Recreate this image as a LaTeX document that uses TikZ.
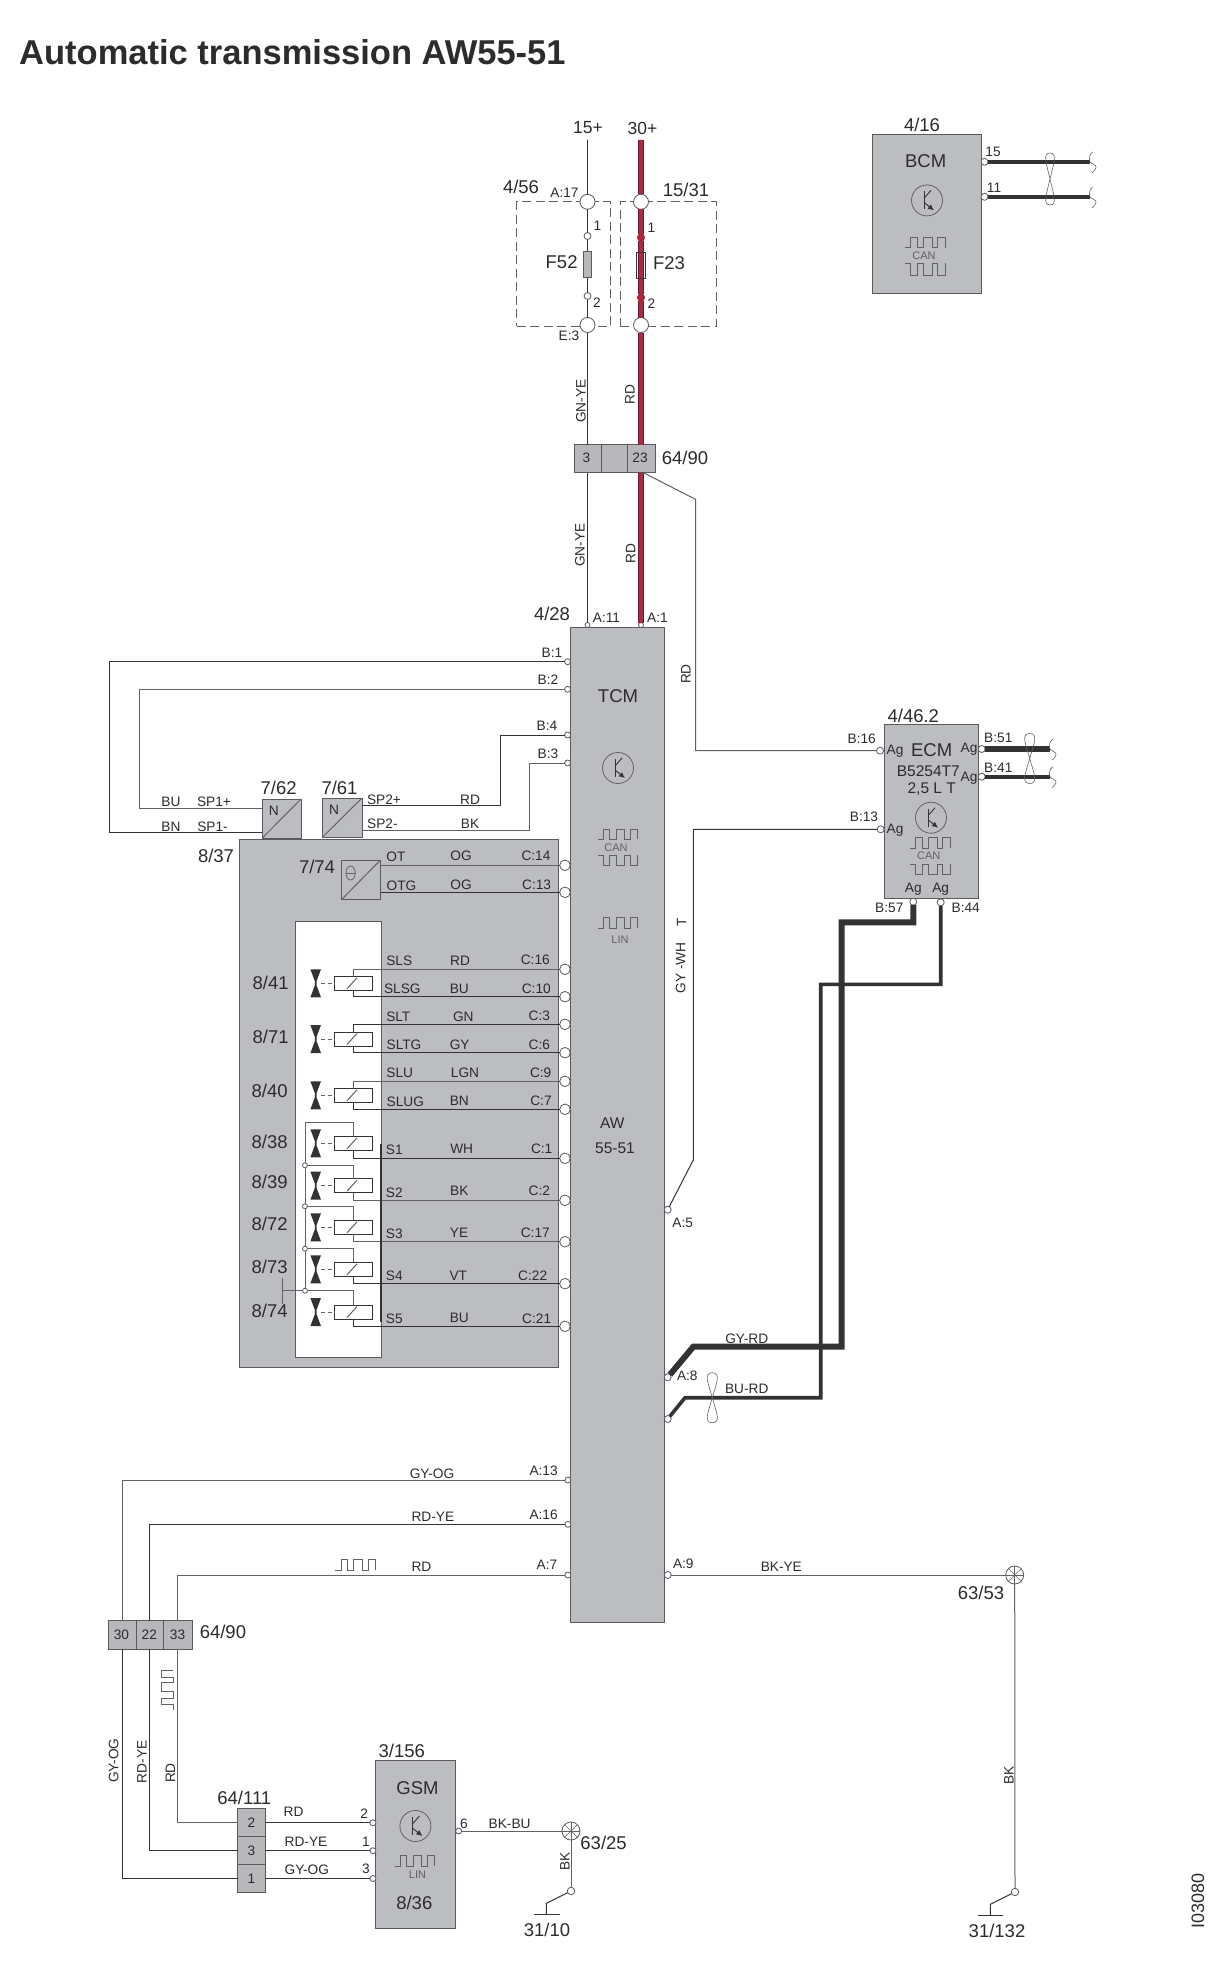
\documentclass[tikz,border=0pt]{standalone}
\usepackage{fontspec}
\setmainfont{Liberation Sans}
\usetikzlibrary{arrows.meta,calc}
\definecolor{blkgray}{HTML}{BCBDC0}
\definecolor{cnngray}{HTML}{B8B8BA}
\definecolor{edgegray}{HTML}{5A5A5C}
\definecolor{wiredark}{HTML}{333335}
\definecolor{wirelight}{HTML}{626264}
\definecolor{txtgray}{HTML}{2C2C2E}
\definecolor{wirered}{HTML}{C2203F}
\newcount\lblcnt
\newcommand{\blk}[6][]{\pgfmathsetmacro\bw{#5-#3}\pgfmathsetmacro\bh{#6-#4}\node[blkst,#1,minimum width=\bw pt,minimum height=\bh pt,anchor=north west] (#2) at (#3,#4) {};}
\newcommand{\pinn}[5][]{\node[pinst,minimum size=#5pt,#1] (#2) at (#3,#4) {};}
\newcommand{\lbl}[4][sm]{\global\advance\lblcnt by 1\node[#1] (t\the\lblcnt) at (#2,#3) {#4};}
\newcommand{\sqw}[4]{\draw[wavest] (#1,#2) -- ++(.14*#3,0) -- ++(0,-#4) -- ++(.16*#3,0) -- ++(0,#4) -- ++(.16*#3,0) -- ++(0,-#4) -- ++(.22*#3,0) -- ++(0,#4) -- ++(.14*#3,0) -- ++(0,-#4) -- ++(.18*#3,0) -- ++(0,#4);}
\newcommand{\vsqw}[4]{\draw[wavest] (#1,#2) -- ++(0,-.14*#3) -- ++(-#4,0) -- ++(0,-.16*#3) -- ++(#4,0) -- ++(0,-.16*#3) -- ++(-#4,0) -- ++(0,-.22*#3) -- ++(#4,0) -- ++(0,-.14*#3) -- ++(-#4,0) -- ++(0,-.18*#3) -- ++(#4,0);}
\newcommand{\transis}[2]{\begin{scope}[shift={(#1,#2)}]
\draw[wavest] (0,0) circle (15.5);
\draw[wiredk,line width=.9pt] (-3,-9) -- (-3,9);
\draw[wiredk,line width=.9pt] (-3,-2) -- (4,-10);
\draw[wiredk,line width=.9pt,-{Latex[length=6pt,width=5.5pt]}] (-3,2) -- (7,10);
\end{scope}}
\newcommand{\twist}[4]{\begin{scope}[shift={(#1,#2)}]
\draw[wavest,line width=.6pt] (0,0) .. controls (.55*#3,-.55*#4) and (1.3*#3,-#4) .. (0,-#4) .. controls (-1.3*#3,-#4) and (-.55*#3,-.55*#4) .. (0,0)
 .. controls (.55*#3,.55*#4) and (1.3*#3,#4) .. (0,#4) .. controls (-1.3*#3,#4) and (-.55*#3,.55*#4) .. (0,0);
\end{scope}}
\newcommand{\curl}[2]{\draw[wavest,line width=.6pt] (#1+3,#2-10) .. controls (#1-1,#2-8) and (#1-1,#2-2) .. (#1,#2) .. controls (#1+1,#2+2) and (#1+7,#2+3) .. (#1+6,#2+6) .. controls (#1+5,#2+9) and (#1+3,#2+10) .. (#1+2,#2+11);}
\newcommand{\stargnd}[3]{\node[pinst,minimum size=18pt] (#1) at (#2,#3) {};
\foreach \a in {0,45,90,135} \draw[wavest,line width=.6pt] ($(#1.center)+(\a:9)$) -- ($(#1.center)+(\a+180:9)$);}
% coil: name, centre y
\newcommand{\solen}[2]{\node[coilst] (#1) at (353.5,#2) {};
\draw[wirelt] (347,#2+5.5) -- (357,#2-5.5);
\fill[wiredark] (310.4,#2-14) -- (321,#2-14) -- (316.5,#2-2) -- (316.5,#2+2) -- (321,#2+14) -- (310.4,#2+14) -- (314.9,#2+2) -- (314.9,#2-2) -- cycle;
\draw[wirelt,dashed,dash pattern=on 4pt off 2.5pt] (321,#2) -- (#1.west);}
\tikzset{
 x=1pt,y=-1pt,
 blkst/.style={draw=edgegray,fill=blkgray,line width=1pt,inner sep=0pt,outer sep=0pt},
 cnnst/.style={draw=edgegray,fill=cnngray,line width=1pt,inner sep=0pt,outer sep=0pt},
 pinst/.style={circle,draw=edgegray,fill=white,line width=.8pt,inner sep=0pt,outer sep=0pt},
 redpin/.style={fill=wirered,draw=wirered!70!black},
 coilst/.style={rectangle,draw=wiredark,fill=white,line width=.9pt,minimum width=38.4pt,minimum height=14pt,inner sep=0pt,outer sep=0pt},
 wiredk/.style={draw=wiredark,line width=1pt},
 wirelt/.style={draw=wirelight,line width=1pt},
 thickw/.style={draw=wiredark,line width=6pt},
 midw/.style={draw=wiredark,line width=3.6pt},
 redw/.style={draw=wiredark,line width=.7pt,double=wirered,double distance=4.6pt},
 wavest/.style={draw=wirelight,line width=.8pt},
 dashbox/.style={draw=wirelight,line width=.9pt,dash pattern=on 9pt off 4.5pt},
 sm/.style={font=\fontsize{13.7}{14}\selectfont,text=txtgray,inner sep=0pt},
 md/.style={font=\fontsize{15.5}{16}\selectfont,text=txtgray,inner sep=0pt},
 bg/.style={font=\fontsize{18.5}{19}\selectfont,text=txtgray,inner sep=0pt},
 tn/.style={font=\fontsize{11}{12}\selectfont,text=wirelight,inner sep=0pt},
 rsm/.style={sm,rotate=90},
 titl/.style={font=\fontsize{34.5}{37}\selectfont\bfseries,text=txtgray,inner sep=0pt,anchor=west},
}
\begin{document}
\begin{tikzpicture}
\fill[white] (0,0) rectangle (1226,1980);
\useasboundingbox (0,0) rectangle (1226,1980);
%---- blocks
\blk{tcm}{570.5}{627}{664}{1622}
\blk{blk837}{239}{839.5}{558.5}{1367}
\blk[fill=white]{valvebox}{295.3}{921}{381}{1357.3}
\blk{bcm}{872.6}{135}{981.2}{293}
\blk{ecm}{884.3}{724}{978}{898}
\blk{gsm}{375.7}{1760.7}{455.4}{1928.7}
\blk{n62}{262}{799}{301}{838.3}
\blk{n61}{322.7}{798}{362}{837}
\blk{sen}{341.8}{860}{380.5}{899.3}
\blk[cnnst]{cn3}{574}{444.6}{601}{472.5}
\blk[cnnst]{cnm}{601}{444.6}{627}{472.5}
\blk[cnnst]{cn23}{627}{444.6}{655}{472.5}
\blk[cnnst]{cl30}{108}{1620.7}{136}{1649}
\blk[cnnst]{cl22}{136}{1620.7}{163}{1649}
\blk[cnnst]{cl33}{163}{1620.7}{192}{1649}
\blk[cnnst]{bx2}{237.5}{1808.7}{265.4}{1836.7}
\blk[cnnst]{bx3}{237.5}{1836.7}{265.4}{1864.7}
\blk[cnnst]{bx1}{237.5}{1864.7}{265.4}{1892.3}
%---- dashed fuse boxes
\node[dashbox,minimum width=93.5pt,minimum height=124.3pt,inner sep=0pt,anchor=north west] (fb52) at (516.3,201.4) {};
\node[dashbox,minimum width=95.9pt,minimum height=124.3pt,inner sep=0pt,anchor=north west] (fb23) at (619.6,201.4) {};
%---- symbols in blocks
\draw[wirelt] (n62.south west) -- (n62.north east);
\draw[wirelt] (n61.south west) -- (n61.north east);
\draw[wirelt] (sen.south west) -- (sen.north east);
\draw[wavest] (350.6,873) ellipse (4.6 and 7);
\draw[wavest] (346,873) -- (355.2,873);
\transis{927}{200.4}\transis{618}{768}\transis{931}{817.7}\transis{415.4}{1826}
\sqw{905}{247.5}{40}{10}\sqw{905}{263}{40}{-12}
\sqw{597.5}{839.3}{40}{10.3}\sqw{597.5}{855}{40}{-10.7}
\sqw{597.5}{928}{40}{10.3}
\sqw{910}{848}{40}{11}\sqw{910}{864}{40}{-10.3}
\sqw{394.6}{1866}{40}{10.3}
\sqw{335.4}{1570}{40}{11}
\vsqw{172.9}{1710}{40}{11.5}
%---- pins
\pinn{top15}{587.5}{140}{.1}
\pinn{top30}{641}{140}{.1}
\pinn{ca17}{587.5}{201.8}{15}
\pinn{ce3}{587.5}{325}{15}
\pinn{fa1}{587.5}{236}{7}
\pinn{fa2}{587.5}{296}{7}
\pinn{cb1}{641}{201.8}{15}
\pinn{cb2}{641}{325}{15}
\pinn[redpin]{fb1}{641}{237.5}{7}
\pinn[redpin]{fb2}{641}{297.5}{7}
\pinn{pa11}{587.5}{625}{5}
\pinn{pa1}{641}{625}{5}
\pinn{pb1}{567.6}{661.7}{6}
\pinn{pb2}{567.6}{689.3}{6}
\pinn{pb4}{567.6}{735}{6}
\pinn{pb3}{567.6}{763}{6}
\pinn{pc14}{565}{865.3}{10.6}
\pinn{pc13}{565}{892.3}{10.6}
\foreach \n/\y in {c16/969.3,c10/996.7,c3/1024.3,c6/1052.7,c9/1081.3,c7/1109.3,c1/1158.3,c2/1200.3,c17/1241.7,c22/1283.7,c21/1326.3}{\pinn{p\n}{565}{\y}{10.6}}
\pinn{pa5}{667.7}{1209.7}{7}
\pinn{pa8}{667.7}{1377.3}{7}
\pinn{pa8b}{667.7}{1419}{7}
\pinn{pa9}{667.7}{1575}{7}
\pinn{pa13}{567.9}{1480}{6}
\pinn{pa16}{567.9}{1524.3}{6}
\pinn{pa7}{567.9}{1575}{6}
\pinn{pe16}{880}{750.7}{7}
\pinn{pe13}{880.7}{829.3}{7}
\pinn{pe51}{981.7}{749}{7}
\pinn{pe41}{981.7}{776.7}{7}
\pinn{pe57}{913.3}{901.7}{7}
\pinn{pe44}{940.7}{902.3}{7}
\pinn{bc15}{984.5}{161.8}{7}
\pinn{bc11}{984.5}{196.8}{7}
\pinn{gs2}{372.9}{1822.7}{6}
\pinn{gs1}{372.9}{1850.7}{6}
\pinn{gs3}{372.9}{1878.5}{6}
\pinn{gs6}{458.6}{1831}{6}
\pinn{gc1}{571}{1891}{7.5}
\pinn{gc2}{1015}{1892}{7.5}
\stargnd{st1}{1014.7}{1575}
\stargnd{st2}{571}{1831}
%---- bend coordinates and free ends
\coordinate (k1) at (695.5,499.3);
\coordinate (k2) at (693.3,1160);
\coordinate (lb1) at (109,661.7);
\coordinate (lb2) at (139.8,689.3);
\coordinate (j621) at (262,808.3);
\coordinate (j622) at (262,832.7);
\coordinate (j611) at (362,805.3);
\coordinate (j612) at (362,830);
\coordinate (lb4) at (500,735);
\coordinate (lb3) at (529.7,763);
\coordinate (tp23) at (643,472.5);
\coordinate (end15) at (1090,161.8);
\coordinate (end11) at (1090,196.8);
\coordinate (end51) at (1050,749);
\coordinate (end41) at (1050,776.7);
\coordinate (t57a) at (913.3,922.3);
\coordinate (t57b) at (841.7,1346.7);
\coordinate (t57c) at (693.3,1346.7);
\coordinate (t44a) at (940.7,984.3);
\coordinate (t44b) at (820.7,1397.7);
\coordinate (t44c) at (685,1397.7);
\coordinate (gb1) at (546.4,1903.3);
\coordinate (gb1b) at (546.4,1914);
\coordinate (gb2) at (990.4,1904.3);
\coordinate (gb2b) at (990.4,1915);
\coordinate (busT) at (305,1122.7);
\coordinate (ldT) at (282.7,1277.7);
\coordinate (ldB) at (282.7,1304);
\coordinate (ldM) at (282.7,1290.7);
%---- 15+ and 30+ feeds
\draw[wiredk] (top15) -- (ca17);
\draw[wiredk] (ca17) -- (fa1);
\draw[wiredk] (fa1) -- (fa2);
\draw[wiredk] (fa2) -- (ce3);
\draw[wiredk] (ce3) -- (cn3.north);
\draw[wiredk] (cn3.south) -- (pa11);
\draw[redw] (top30) -- (cb1);
\draw[redw] (cb1) -- (fb1);
\draw[redw] (fb1) -- (fb2);
\draw[redw] (fb2) -- (cb2);
\draw[redw] (cb2) -- (cn23.north);
\draw[redw] (cn23.south) -- (pa1);
\node[draw=wiredark,line width=.9pt,minimum width=9.6pt,minimum height=26pt,inner sep=0pt] (f23) at (641,265.5) {};
\node[cnnst,minimum width=8.4pt,minimum height=26pt] (f52) at (587.5,264) {};
\draw[wirelt] (tp23) -- (k1) |- (pe16);
\draw[wiredk] (pe13) -| (k2) -- (pa5);
%---- TCM left side
\draw[wiredk] (pb1) -- (lb1) |- (j622);
\draw[wirelt] (pb2) -- (lb2) |- (j621);
\draw[wiredk] (pb4) -- (lb4) |- (j611);
\draw[wirelt] (pb3) -- (lb3) |- (j612);
\draw[wirelt] (pc14) -- (pc14 -| sen.east);
\draw[wiredk] (pc13) -- (pc13 -| sen.east);
%---- solenoids
\solen{s41}{983.3}\solen{s71}{1039}\solen{s40}{1095.3}\solen{s38}{1143.3}\solen{s39}{1185.7}\solen{s72}{1227.3}\solen{s73}{1269.3}\solen{s74}{1312}
\draw[wirelt] (pc16) -| (s41.north);
\draw[wiredk] (pc10) -| (s41.south);
\draw[wiredk] (pc3) -| (s71.north);
\draw[wiredk] (pc6) -| (s71.south);
\draw[wirelt] (pc9) -| (s40.north);
\draw[wiredk] (pc7) -| (s40.south);
\draw[wiredk] (pc1) -| (s38.south);
\draw[wirelt] (pc2) -| (s39.south);
\draw[wirelt] (pc17) -| (s72.south);
\draw[wiredk] (pc22) -| (s73.south);
\draw[wiredk] (pc21) -| (s74.south);
\draw[wiredark,line width=1.2pt] (381,1144) -- (381,1321.7);
\foreach \n/\y in {d1/1165.3,d2/1206.3,d3/1248.7,d4/1290.7}{\node[pinst,minimum size=5pt] (\n) at (305,\y) {};}
\draw[wirelt] (s38.north) |- (busT) -- (d1);
\draw[wirelt] (d1) -- (d2);
\draw[wirelt] (d2) -- (d3);
\draw[wirelt] (d3) -- (d4);
\draw[wirelt] (d1) -| (s39.north);
\draw[wirelt] (d2) -| (s72.north);
\draw[wirelt] (d3) -| (s73.north);
\draw[wirelt] (d4) -| (s74.north);
\draw[wirelt] (ldT) -- (ldB);
\draw[wirelt] (ldM) -- (d4);
%---- thick wires
\draw[midw] (bc15) -- (end15);
\draw[midw] (bc11) -- (end11);
\draw[thickw] (pe51) -- (end51);
\draw[midw] (pe41) -- (end41);
\draw[midw,miter limit=10] (pe44) -- (t44a) -| (t44b) -- (t44c) -- (pa8b);
\draw[thickw,miter limit=10] (pe57) -- (t57a) -| (t57b) -- (t57c) -- (pa8);
\curl{1090}{161.8}\curl{1090}{196.8}\curl{1050}{749}\curl{1050}{776.7}
\twist{1050}{179}{6}{26}
\twist{1029.7}{758.5}{7}{25}
\twist{712.3}{1397.7}{7}{25}
%---- lower part
\draw[wirelt] (pa9) -- (st1);
\draw[wirelt] (st1) -- (gc2);
\draw[wirelt] (pa13) -| (cl30.north);
\draw[wiredk] (pa16) -| (cl22.north);
\draw[wirelt] (pa7) -| (cl33.north);
\draw[wiredk] (cl30.south) |- (bx1.west);
\draw[wiredk] (cl22.south) |- (bx3.west);
\draw[wirelt] (cl33.south) |- (bx2.west);
\draw[wiredk] (bx2.east) -- (gs2);
\draw[wiredk] (bx3.east) -- (gs1);
\draw[wiredk] (bx1.east) -- (gs3);
\draw[wirelt] (gs6) -- (st2);
\draw[wirelt] (st2) -- (gc1);
\draw[wiredk] (gc1) -- (gb1) -- (gb1b);
\draw[wiredk] (gc2) -- (gb2) -- (gb2b);
\draw[wiredk] (534,1914) -- (559.6,1914);
\draw[wiredk] (978,1915) -- (1003,1915);
%---- title and large labels
\lbl[titl]{19}{52.5}{Automatic transmission AW55-51}
\lbl[font=\fontsize{17.5}{18}\selectfont,text=txtgray,inner sep=0pt]{588}{128}{15+}
\lbl[font=\fontsize{17.5}{18}\selectfont,text=txtgray,inner sep=0pt]{642.4}{128}{30+}
\lbl[bg]{521}{186.4}{4/56}
\lbl[bg]{686}{190}{15/31}
\lbl[bg]{561.6}{262}{F52}
\lbl[bg]{669}{263.6}{F23}
\lbl[bg]{685}{458}{64/90}
\lbl[bg]{552}{614.3}{4/28}
\lbl[bg]{922}{125}{4/16}
\lbl[bg]{925.7}{161.4}{BCM}
\lbl[bg]{618}{695.7}{TCM}
\lbl[bg]{913.3}{715.7}{4/46.2}
\lbl[bg]{931.7}{750}{ECM}
\lbl[md]{928.3}{771}{B5254T7}
\lbl[md]{931.7}{789.3}{2,5 L T}
\lbl[bg]{278.7}{788}{7/62}
\lbl[bg]{339.5}{787.7}{7/61}
\lbl[bg]{216}{856}{8/37}
\lbl[bg]{317}{867.3}{7/74}
\lbl[md]{612.3}{1123}{AW}
\lbl[md]{615}{1148.3}{55-51}
\lbl[bg]{270.7}{982.7}{8/41}
\lbl[bg]{270.7}{1036.7}{8/71}
\lbl[bg]{269.7}{1090.7}{8/40}
\lbl[bg]{269.7}{1142.3}{8/38}
\lbl[bg]{269.7}{1182.3}{8/39}
\lbl[bg]{269.7}{1224}{8/72}
\lbl[bg]{269.7}{1266.7}{8/73}
\lbl[bg]{269.7}{1311.3}{8/74}
\lbl[bg]{981}{1593.3}{63/53}
\lbl[bg]{222.9}{1632.3}{64/90}
\lbl[bg]{244.3}{1798.3}{64/111}
\lbl[bg]{401.8}{1750.7}{3/156}
\lbl[bg]{417.5}{1787.7}{GSM}
\lbl[bg]{414.3}{1903.3}{8/36}
\lbl[bg]{603.6}{1843.3}{63/25}
\lbl[bg]{547}{1930}{31/10}
\lbl[bg]{997}{1931}{31/132}
\lbl[font=\fontsize{18}{19}\selectfont,text=txtgray,inner sep=0pt,rotate=90]{1198}{1901}{I03080}
%---- small labels
\lbl{564.5}{193}{A:17}
\lbl{597.5}{226}{1}
\lbl{597}{303}{2}
\lbl{569}{335.7}{E:3}
\lbl{651.4}{228}{1}
\lbl{651.4}{303.6}{2}
\lbl[rsm]{581}{401}{GN-YE}
\lbl[rsm]{630}{394.6}{RD}
\lbl[rsm]{580}{545}{GN-YE}
\lbl[rsm]{630.6}{553.6}{RD}
\lbl{586.5}{458}{3}
\lbl{640}{458}{23}
\lbl{606.5}{618}{A:11}
\lbl{657.5}{618}{A:1}
\lbl{993}{152}{15}
\lbl{994}{187.5}{11}
\lbl[tn]{924}{256}{CAN}
\lbl[tn]{616}{847.7}{CAN}
\lbl[tn]{620}{940}{LIN}
\lbl[tn]{928.7}{856}{CAN}
\lbl[tn]{417.5}{1875}{LIN}
\lbl[rsm]{686}{674}{RD}
\lbl{552}{652.7}{B:1}
\lbl{548}{680}{B:2}
\lbl{547}{725.7}{B:4}
\lbl{548}{754}{B:3}
\lbl{273.7}{811}{N}
\lbl{334}{810}{N}
\lbl{171}{802}{BU}
\lbl{214}{802}{SP1+}
\lbl{171}{827}{BN}
\lbl{212.5}{827}{SP1-}
\lbl{384}{800}{SP2+}
\lbl{470}{800}{RD}
\lbl{382.4}{824}{SP2-}
\lbl{470}{824}{BK}
\lbl{396}{857}{OT}
\lbl{461}{856}{OG}
\lbl{536}{856}{C:14}
\lbl{401.5}{885.7}{OTG}
\lbl{461}{885}{OG}
\lbl{536.6}{885}{C:13}
\lbl{399.3}{961}{SLS}\lbl{460}{960.3}{RD}\lbl{535.3}{960}{C:16}
\lbl{402.3}{988.7}{SLSG}\lbl{459.3}{988.7}{BU}\lbl{536.3}{988.7}{C:10}
\lbl{398.3}{1017}{SLT}\lbl{463.3}{1016.3}{GN}\lbl{539.3}{1016}{C:3}
\lbl{404}{1044.7}{SLTG}\lbl{459.7}{1044.7}{GY}\lbl{539.3}{1044.7}{C:6}
\lbl{399.7}{1073}{SLU}\lbl{465}{1073}{LGN}\lbl{540.7}{1072.7}{C:9}
\lbl{405.3}{1101.3}{SLUG}\lbl{459.3}{1101}{BN}\lbl{541}{1100.3}{C:7}
\lbl{394.3}{1150}{S1}\lbl{461.7}{1148.7}{WH}\lbl{541.7}{1148.7}{C:1}
\lbl{394.3}{1192.3}{S2}\lbl{459.3}{1190.3}{BK}\lbl{539.3}{1190.3}{C:2}
\lbl{394.3}{1233.7}{S3}\lbl{459}{1233}{YE}\lbl{535.3}{1233}{C:17}
\lbl{394.3}{1276}{S4}\lbl{458.3}{1276}{VT}\lbl{532.7}{1276}{C:22}
\lbl{394.3}{1318.3}{S5}\lbl{459.3}{1318.3}{BU}\lbl{536.7}{1318.3}{C:21}
\lbl[rsm]{680.7}{968}{GY -WH}
\lbl[rsm]{681.7}{922}{T}
\lbl{861.7}{739}{B:16}
\lbl{895}{751}{Ag}
\lbl{864}{817}{B:13}
\lbl{895}{830}{Ag}
\lbl{969}{749.3}{Ag}
\lbl{969}{778.7}{Ag}
\lbl{998.3}{738}{B:51}
\lbl{998.3}{767.3}{B:41}
\lbl{913.3}{889}{Ag}
\lbl{940.7}{889}{Ag}
\lbl{889.3}{908}{B:57}
\lbl{965.7}{908}{B:44}
\lbl{682.7}{1223}{A:5}
\lbl{687.3}{1375.3}{A:8}
\lbl{746.7}{1338.7}{GY-RD}
\lbl{746.7}{1389}{BU-RD}
\lbl{683.3}{1563.3}{A:9}
\lbl{781.3}{1566.7}{BK-YE}
\lbl[rsm]{1009}{1775}{BK}
\lbl{432}{1474}{GY-OG}
\lbl{543.6}{1471}{A:13}
\lbl{432.9}{1516.7}{RD-YE}
\lbl{543.6}{1515}{A:16}
\lbl{421.4}{1566.7}{RD}
\lbl{547}{1565}{A:7}
\lbl{121.4}{1635}{30}
\lbl{149.3}{1635}{22}
\lbl{177.5}{1635}{33}
\lbl[rsm]{113.6}{1760.7}{GY-OG}
\lbl[rsm]{142}{1762}{RD-YE}
\lbl[rsm]{170.4}{1773}{RD}
\lbl{251.4}{1822.5}{2}
\lbl{251.4}{1850.7}{3}
\lbl{251.4}{1878.3}{1}
\lbl{293.6}{1811.7}{RD}
\lbl{306}{1841.7}{RD-YE}
\lbl{306.8}{1870}{GY-OG}
\lbl{364.3}{1813.3}{2}
\lbl{366}{1841.3}{1}
\lbl{366}{1868.3}{3}
\lbl{464}{1823.3}{6}
\lbl{509.6}{1824}{BK-BU}
\lbl[rsm]{565}{1861}{BK}
\end{tikzpicture}
\end{document}
